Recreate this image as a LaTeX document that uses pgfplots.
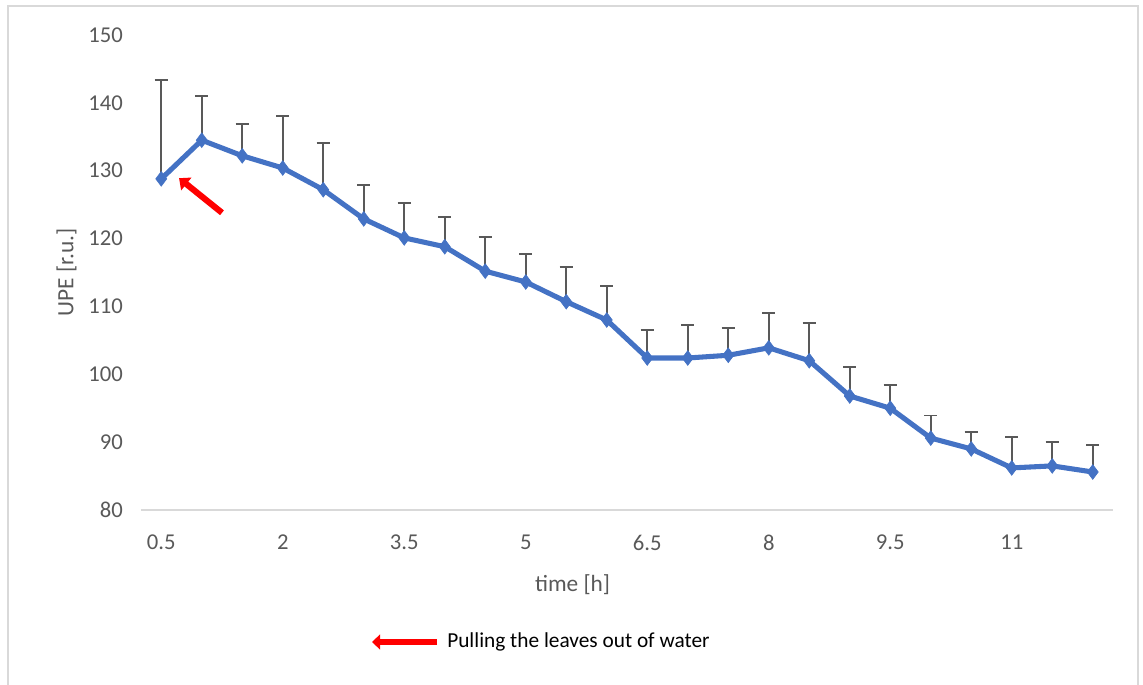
\documentclass[border=0pt]{standalone}
\usepackage{pgfplots}
\pgfplotsset{compat=1.18}
\usepackage{fontspec}
\setmainfont{Carlito}
\usetikzlibrary{arrows.meta}
\definecolor{lineblue}{HTML}{4472C4}
\definecolor{txtgray}{HTML}{595959}
\definecolor{axgray}{HTML}{D9D9D9}
\begin{document}
\begin{tikzpicture}
\useasboundingbox (-105.75pt,-131.25pt) rectangle (751.5pt,382.5pt);
\draw[axgray, line width=1pt] (-99.75pt,-135pt) -- (-99.75pt,378pt) -- (747.75pt,378pt) -- (747.75pt,-135pt);
\begin{axis}[
  at={(0,0)}, anchor=south west,
  width=729pt, height=356.25pt, scale only axis,
  xmin=0.25, xmax=12.25, ymin=80, ymax=150,
  xtick={0.5,2,3.5,5,6.5,8,9.5,11},
  xticklabels={0.5,2,3.5,5,6.5,8,9.5,11},
  ytick={80,90,...,150},
  axis lines*=left,
  x axis line style={axgray, line width=1.5pt, -},
  y axis line style={draw=none},
  major tick length=0pt,
  tick style={draw=none},
  ticklabel style={font=\fontsize{17}{20}\selectfont, text=txtgray},
  /pgf/number format/assume math mode=true,
  xticklabel style={yshift=-15pt},
  yticklabel style={xshift=-10pt},
  xlabel={time [h]}, ylabel={UPE [r.u.]},
  label style={font=\fontsize{17.5}{20}\selectfont, text=txtgray},
  xlabel style={at={(axis description cs:0.444,0)}, anchor=north, yshift=-45pt},
  ylabel style={yshift=2pt},
  clip=false,
]
\addplot[txtgray, line width=1.2pt, only marks, mark=none, forget plot,
  error bars/.cd, y dir=plus, y explicit,
  error bar style={txtgray, line width=1.2pt},
  error mark options={rotate=90, txtgray, line width=1.2pt, mark size=5pt}]
  table[x=t, y=v, y error=e] {
t v e
0.5 128.8 14.6
1.0 134.5 6.5
1.5 132.2 4.7
2.0 130.4 7.7
2.5 127.2 6.9
3.0 122.9 5.0
3.5 120.1 5.1
4.0 118.8 4.4
4.5 115.2 5.0
5.0 113.6 4.1
5.5 110.7 5.1
6.0 108.0 5.0
6.5 102.4 4.1
7.0 102.4 4.9
7.5 102.8 4.0
8.0 103.9 5.1
8.5 102.0 5.6
9.0 96.8 4.3
9.5 95.0 3.4
10.0 90.6 3.3
10.5 89.0 2.5
11.0 86.2 4.6
11.5 86.5 3.5
12.0 85.6 4.0
};
\addplot[lineblue, line width=3.8pt, mark=diamond*, mark size=5.5pt,
  mark options={fill=lineblue, draw=lineblue, line width=0.5pt}]
  table[x=t, y=v] {
t v
0.5 128.8
1.0 134.5
1.5 132.2
2.0 130.4
2.5 127.2
3.0 122.9
3.5 120.1
4.0 118.8
4.5 115.2
5.0 113.6
5.5 110.7
6.0 108.0
6.5 102.4
7.0 102.4
7.5 102.8
8.0 103.9
8.5 102.0
9.0 96.8
9.5 95.0
10.0 90.6
10.5 89.0
11.0 86.2
11.5 86.5
12.0 85.6
};
\draw[red, line width=4.6pt, -{Triangle[length=7pt,width=12pt]}] (axis cs:1.25,123.8) -- (axis cs:0.72,128.9);
\end{axis}
\draw[red, line width=5pt, -{Triangle[length=6pt,width=11pt]}] (222pt,-99pt) -- (173.25pt,-99pt);
\node[anchor=west, inner sep=0pt, font=\fontsize{16}{18}\selectfont] at (229.5pt,-99pt) {Pulling the leaves out of water};
\end{tikzpicture}
\end{document}
